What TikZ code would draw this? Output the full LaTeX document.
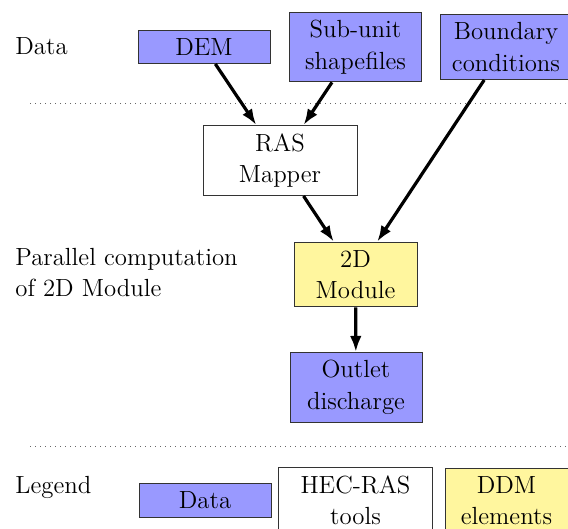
\documentclass[tikz,border=0pt]{standalone}
\usepackage{fontspec}
\usetikzlibrary{arrows.meta}
\definecolor{databg}{RGB}{153,153,255}
\definecolor{ddmbg}{RGB}{255,246,158}
\begin{document}
\begin{tikzpicture}[x=0.5pt,y=-0.5pt,
  every node/.style={font=\fontsize{12.4}{15.75}\selectfont},
  box/.style={draw=black!80,line width=0.5pt,align=center,inner xsep=4.5pt,inner ysep=4pt},
  databox/.style={box,fill=databg,minimum width=66pt},
  hecbox/.style={box,fill=white,minimum width=77pt},
  ddmbox/.style={box,fill=ddmbg,minimum width=61.5pt},
  lbl/.style={inner sep=0pt,align=left},
  flow/.style={-{Latex[length=8pt,width=5.8pt]},line width=1.6pt},
  sepline/.style={dotted,black!60,line width=0.5pt}]
\useasboundingbox (0,0) rectangle (568,529);
% separators
\coordinate (s1a) at (30,104);
\coordinate (s1b) at (568,104);
\coordinate (s2a) at (30,446);
\coordinate (s2b) at (568,446);
\draw[sepline] (s1a) -- (s1b);
\draw[sepline] (s2a) -- (s2b);
% row labels
\node[lbl,anchor=base west] (ldata) at (15,55) {Data};
\node[lbl,anchor=west] (lpar) at (15,272.5) {Parallel computation\\of 2D Module};
\node[lbl,anchor=base west] (lleg) at (15,493) {Legend};
% data row
\node[databox] (dem) at (204,47) {DEM};
\node[databox] (sub) at (355.5,47) {Sub-unit\\shapefiles};
\node[databox] (bc) at (506,47) {Boundary\\conditions};
% processing
\node[hecbox] (ras) at (280,160.5) {RAS\\Mapper};
\node[ddmbox] (mod) at (355.5,274.5) {2D\\Module};
\node[databox] (out) at (356,387.5) {Outlet\\discharge};
% legend
\node[databox] (legdata) at (205,500.5) {Data};
\node[hecbox] (leghec) at (355.5,500.5) {HEC-RAS\\tools};
\node[ddmbox] (legddm) at (506.5,500.5) {DDM\\elements};
% connectors
\draw[flow] (dem) -- (ras);
\draw[flow] (sub) -- (ras);
\draw[flow] (bc) -- (mod);
\draw[flow] (ras) -- (mod);
\draw[flow] (mod) -- (out);
\end{tikzpicture}
\end{document}
